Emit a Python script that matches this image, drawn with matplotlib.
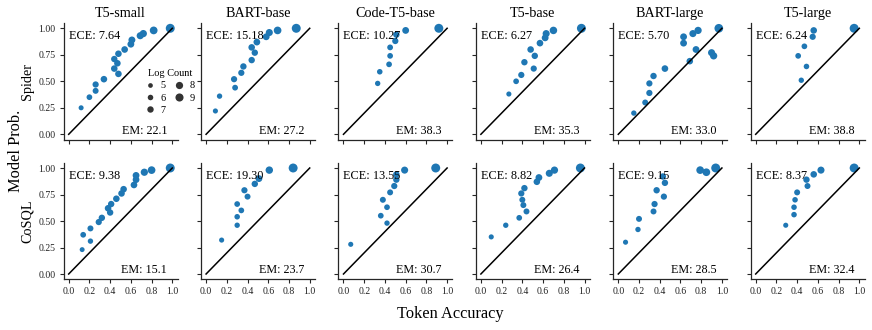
import numpy as np
import matplotlib
matplotlib.use("Agg")
import matplotlib.pyplot as plt
from matplotlib.lines import Line2D

plt.rcParams['font.family'] = ['Liberation Serif', 'DejaVu Serif']

models = ["T5-small", "BART-base", "Code-T5-base", "T5-base", "BART-large", "T5-large"]
datasets = ["Spider", "CoSQL"]

# ---- Spider ----
sp_t5s_acc = [0.12, 0.20, 0.26, 0.26, 0.34, 0.44, 0.48, 0.47, 0.44, 0.48, 0.54, 0.60, 0.61, 0.69, 0.72, 0.82, 0.98]
sp_t5s_prob = [0.25, 0.35, 0.41, 0.47, 0.52, 0.62, 0.57, 0.67, 0.71, 0.76, 0.80, 0.85, 0.89, 0.93, 0.95, 0.98, 1.00]
sp_t5s_lc = [5.4, 6.2, 6.5, 6.8, 7.2, 7.2, 7.2, 7.2, 7.0, 7.2, 7.3, 7.5, 7.6, 7.8, 8.0, 8.6, 10.0]

sp_bb_acc = [0.09, 0.13, 0.28, 0.27, 0.34, 0.36, 0.44, 0.47, 0.44, 0.49, 0.58, 0.61, 0.69, 0.87]
sp_bb_prob = [0.22, 0.36, 0.44, 0.52, 0.58, 0.64, 0.70, 0.77, 0.82, 0.87, 0.92, 0.96, 0.98, 1.00]
sp_bb_lc = [5.5, 5.8, 6.3, 6.8, 6.8, 7.0, 7.0, 7.0, 7.2, 7.4, 7.5, 7.8, 8.5, 10.0]

sp_ct5_acc = [0.33, 0.35, 0.44, 0.45, 0.45, 0.50, 0.51, 0.60, 0.92]
sp_ct5_prob = [0.48, 0.59, 0.66, 0.74, 0.82, 0.88, 0.94, 0.98, 1.00]
sp_ct5_lc = [5.8, 6.0, 6.2, 6.2, 6.3, 6.8, 7.0, 7.5, 10.0]

sp_t5b_acc = [0.27, 0.34, 0.39, 0.51, 0.42, 0.52, 0.48, 0.57, 0.62, 0.63, 0.70, 0.97]
sp_t5b_prob = [0.38, 0.50, 0.56, 0.62, 0.68, 0.74, 0.80, 0.86, 0.91, 0.95, 0.98, 1.00]
sp_t5b_lc = [5.5, 6.2, 6.8, 6.8, 7.0, 7.0, 7.2, 7.3, 7.5, 7.8, 8.3, 10.0]

sp_bl_acc = [0.15, 0.26, 0.30, 0.30, 0.34, 0.45, 0.69, 0.75, 0.63, 0.63, 0.72, 0.77, 0.90, 0.92, 0.97]
sp_bl_prob = [0.20, 0.30, 0.39, 0.48, 0.55, 0.62, 0.69, 0.80, 0.86, 0.92, 0.95, 0.98, 0.77, 0.74, 1.00]
sp_bl_lc = [5.8, 6.5, 6.8, 6.8, 7.0, 7.3, 7.2, 7.5, 7.5, 7.5, 7.8, 8.0, 7.8, 8.0, 9.7]

sp_t5l_acc = [0.44, 0.49, 0.41, 0.47, 0.55, 0.56, 0.95]
sp_t5l_prob = [0.51, 0.64, 0.74, 0.83, 0.92, 0.98, 1.00]
sp_t5l_lc = [5.8, 6.0, 6.2, 6.2, 6.8, 7.2, 10.0]

# ---- CoSQL ----
co_t5s_acc = [0.13, 0.21, 0.14, 0.21, 0.29, 0.32, 0.40, 0.38, 0.41, 0.46, 0.51, 0.53, 0.63, 0.65, 0.65, 0.73, 0.80, 0.98]
co_t5s_prob = [0.23, 0.31, 0.37, 0.43, 0.49, 0.53, 0.58, 0.62, 0.66, 0.71, 0.76, 0.80, 0.84, 0.89, 0.93, 0.96, 0.98, 1.00]
co_t5s_lc = [5.3, 5.8, 6.2, 6.5, 6.8, 7.0, 7.0, 7.2, 7.0, 7.2, 7.2, 7.2, 7.3, 7.4, 7.5, 8.0, 8.5, 10.0]

co_bb_acc = [0.15, 0.30, 0.30, 0.34, 0.30, 0.40, 0.37, 0.47, 0.51, 0.61, 0.84]
co_bb_prob = [0.32, 0.46, 0.54, 0.60, 0.66, 0.73, 0.79, 0.85, 0.90, 0.98, 1.00]
co_bb_lc = [5.5, 5.8, 6.0, 6.2, 6.2, 6.5, 6.8, 7.0, 7.5, 8.2, 10.0]

co_ct5_acc = [0.07, 0.42, 0.36, 0.42, 0.38, 0.45, 0.49, 0.51, 0.51, 0.59, 0.89]
co_ct5_prob = [0.28, 0.48, 0.55, 0.63, 0.70, 0.77, 0.83, 0.89, 0.94, 0.98, 1.00]
co_ct5_lc = [5.5, 5.8, 6.2, 6.2, 6.5, 6.5, 6.8, 7.0, 7.0, 7.8, 10.0]

co_t5b_acc = [0.10, 0.24, 0.37, 0.44, 0.41, 0.40, 0.39, 0.42, 0.54, 0.56, 0.66, 0.71, 0.96]
co_t5b_prob = [0.35, 0.46, 0.53, 0.59, 0.65, 0.70, 0.76, 0.81, 0.87, 0.91, 0.95, 0.98, 1.00]
co_t5b_lc = [5.5, 5.8, 6.2, 6.5, 6.5, 6.5, 6.8, 7.0, 7.2, 7.5, 7.8, 8.0, 10.0]

co_bl_acc = [0.07, 0.19, 0.20, 0.34, 0.35, 0.44, 0.37, 0.45, 0.43, 0.79, 0.85, 0.94]
co_bl_prob = [0.30, 0.42, 0.52, 0.59, 0.66, 0.73, 0.79, 0.86, 0.92, 0.98, 0.96, 1.00]
co_bl_lc = [5.5, 5.8, 6.5, 6.5, 6.8, 6.8, 7.0, 7.0, 7.0, 8.5, 8.5, 10.0]

co_t5l_acc = [0.29, 0.37, 0.37, 0.38, 0.40, 0.50, 0.49, 0.56, 0.63, 0.95]
co_t5l_prob = [0.46, 0.56, 0.63, 0.70, 0.77, 0.83, 0.89, 0.94, 0.98, 1.00]
co_t5l_lc = [5.5, 6.0, 6.0, 6.0, 6.5, 6.5, 7.0, 7.2, 7.8, 10.0]

ece_spider = [7.64, 15.18, 10.27, 6.27, 5.70, 6.24]
em_spider = [22.1, 27.2, 38.3, 35.3, 33.0, 38.8]
ece_cosql = [9.38, 19.30, 13.55, 8.82, 9.15, 8.37]
em_cosql = [15.1, 23.7, 30.7, 26.4, 28.5, 32.4]

legend_counts = [5, 6, 7, 8, 9]

panels = [
    [(sp_t5s_acc, sp_t5s_prob, sp_t5s_lc), (sp_bb_acc, sp_bb_prob, sp_bb_lc),
     (sp_ct5_acc, sp_ct5_prob, sp_ct5_lc), (sp_t5b_acc, sp_t5b_prob, sp_t5b_lc),
     (sp_bl_acc, sp_bl_prob, sp_bl_lc), (sp_t5l_acc, sp_t5l_prob, sp_t5l_lc)],
    [(co_t5s_acc, co_t5s_prob, co_t5s_lc), (co_bb_acc, co_bb_prob, co_bb_lc),
     (co_ct5_acc, co_ct5_prob, co_ct5_lc), (co_t5b_acc, co_t5b_prob, co_t5b_lc),
     (co_bl_acc, co_bl_prob, co_bl_lc), (co_t5l_acc, co_t5l_prob, co_t5l_lc)],
]
eces = [ece_spider, ece_cosql]
ems = [em_spider, em_cosql]

W, H = 872, 330
fig = plt.figure(figsize=(W / 100, H / 100), dpi=100)


def diam_pt(lc):
    d_px = 4.7 + (np.asarray(lc, dtype=float) - 5) * 0.85
    return d_px * 0.72


color = '#1f77b4'
spine_c = '#262626'
row_bottom_px = [139.6, 279.3]
ax_h_px = 116.6
ax_w_px = 114
for r in range(2):
    for c in range(6):
        left = (63.5 + c * 137.4) / W
        bottom = (H - row_bottom_px[r]) / H
        ax = fig.add_axes([left, bottom, ax_w_px / W, ax_h_px / H])
        x, y, lc = panels[r][c]
        ax.scatter(x, y, s=diam_pt(lc) ** 2, color=color, linewidths=0, zorder=2)
        ax.plot([0, 1], [0, 1], color='black', lw=1.1, zorder=3)
        ax.set_xlim(-0.05, 1.05)
        ax.set_ylim(-0.05, 1.05)
        ax.set_xticks([0, 0.2, 0.4, 0.6, 0.8, 1.0])
        ax.set_yticks([0, 0.25, 0.5, 0.75, 1.0])
        ax.set_xticklabels(['0.0', '0.2', '0.4', '0.6', '0.8', '1.0'])
        ax.set_yticklabels(['0.00', '0.25', '0.50', '0.75', '1.00'])
        for s in ['top', 'right']:
            ax.spines[s].set_visible(False)
        for s in ['left', 'bottom']:
            ax.spines[s].set_color(spine_c)
            ax.spines[s].set_linewidth(0.9)
        ax.tick_params(direction='out', length=3.2, width=0.8, color=spine_c,
                       labelsize=7, pad=2.5, labelcolor='#222222')
        if r == 0:
            ax.tick_params(labelbottom=False)
            ax.set_title(models[c], fontsize=10.2, pad=4)
        if c != 0:
            ax.tick_params(labelleft=False)
        ax.text(0.0, 0.90, f'ECE: {eces[r][c]:.2f}', ha='left', va='baseline',
                fontsize=8.8, zorder=5)
        ax.text(0.95, 0.005, f'EM: {ems[r][c]:.1f}', ha='right', va='baseline',
                fontsize=8.7, zorder=5)
        if r == 0 and c == 0:
            handles = [Line2D([], [], ls='', marker='o', ms=float(diam_pt(v)),
                              color='#333333', markeredgewidth=0) for v in legend_counts]
            leg = ax.legend(handles, [str(v) for v in legend_counts], ncol=2,
                            title='Log Count', fontsize=7.4, title_fontsize=7.4,
                            frameon=False, loc='center', bbox_to_anchor=(0.934, 0.408),
                            handlelength=1.0, handletextpad=0.5, columnspacing=0.8,
                            labelspacing=0.3, borderpad=0.2)
            leg.set_zorder(6)

fig.text(27.5 / W, 1 - 81.5 / H, 'Spider', rotation=90, ha='center', va='center', fontsize=10.2)
fig.text(27.5 / W, 1 - 221 / H, 'CoSQL', rotation=90, ha='center', va='center', fontsize=10.2)
fig.text(16.3 / W, 1 - 151 / H, 'Model Prob.', rotation=90, ha='center', va='center', fontsize=11.8)
fig.text(450 / W, 1 - 318.3 / H, 'Token Accuracy', ha='center', va='baseline', fontsize=11.8)

fig.savefig('out.png', dpi=100)
